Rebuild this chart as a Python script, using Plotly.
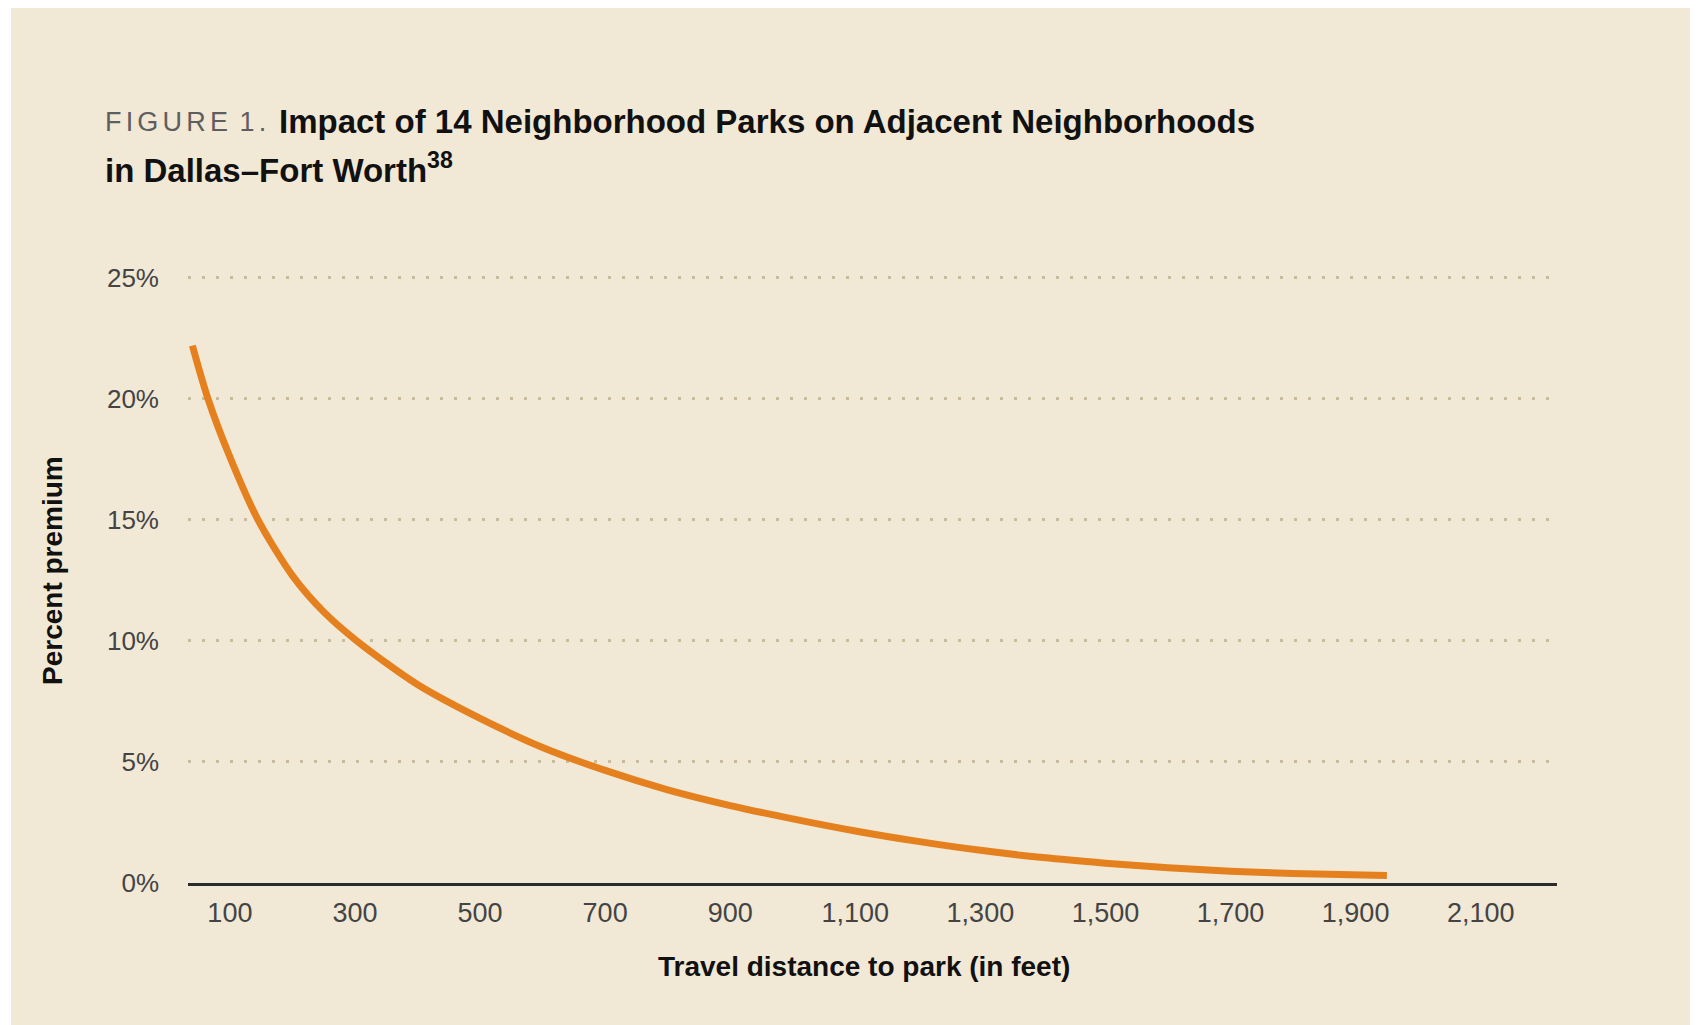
import plotly.graph_objects as go

# -----------------------------
# Data
# -----------------------------

distance_ft = [40, 65, 100, 145, 200, 250, 303, 400, 500, 600, 700, 800, 900,
               1000, 1100, 1200, 1300, 1400, 1500, 1600, 1700, 1800, 1950]

premium_pct = [22.2, 20.0, 17.6, 15.0, 12.7, 11.2, 10.0, 8.2, 6.8, 5.6, 4.65, 3.85, 3.2,
               2.65, 2.15, 1.72, 1.35, 1.05, 0.82, 0.63, 0.49, 0.39, 0.31]

x_ticks = [100, 300, 500, 700, 900, 1100, 1300, 1500, 1700, 1900, 2100]
y_ticks = [0, 5, 10, 15, 20, 25]
y_labels = [f"{v}%" for v in y_ticks]

BG = "#F1E8D6"
ORANGE = "#E5801F"
GRID = "#C9BC9C"

# -----------------------------
# Figure
# (page body keeps its 8px margin, so the figure is 8px smaller)
# -----------------------------

fig = go.Figure()

fig.add_trace(go.Scatter(
    x=distance_ft,
    y=premium_pct,
    mode="lines",
    line=dict(color=ORANGE, width=7, shape="spline", smoothing=0.8),
    hoverinfo="skip",
    showlegend=False
))

fig.update_layout(
    width=1690,
    height=1017,
    paper_bgcolor=BG,
    plot_bgcolor=BG,
    margin=dict(l=180, r=141, t=265, b=142),
    font=dict(family="Liberation Sans, Arial, sans-serif", color="#444444", size=26),
)

fig.update_xaxes(
    range=[33, 2222],
    tickvals=x_ticks,
    tickformat=",d",
    showgrid=False,
    zeroline=False,
    showline=True,
    linecolor="#2b2b2b",
    linewidth=2.5,
    ticks="",
    ticklabelstandoff=4,
    tickfont=dict(size=27, color="#444444"),
)

fig.update_yaxes(
    range=[0, 25.2],
    tickmode="array",
    tickvals=y_ticks,
    ticktext=y_labels,
    showgrid=True,
    gridcolor=GRID,
    gridwidth=3,
    griddash="3px,11px",
    zeroline=False,
    showline=False,
    ticks="",
    ticklabelstandoff=28,
    tickfont=dict(size=26, color="#444444"),
)

# -----------------------------
# Titles
# -----------------------------

W = 1369.0
H = 610.0


def px_x(p):
    return (p - 180) / W


def px_y(q):
    return (875 - q) / H


gap = "<span style='font-size:15px'>\u00a0</span>"
figure_label = gap.join(list("FIGURE")) + gap + "\u00a01" + gap + "."

fig.add_annotation(
    text=figure_label,
    xref="paper", yref="paper",
    x=px_x(95), y=px_y(114),
    xanchor="left", yanchor="middle",
    showarrow=False,
    font=dict(size=27, color="#5e5e5e"),
)

fig.add_annotation(
    text="<b>Impact of 14 Neighborhood Parks on Adjacent Neighborhoods</b>",
    xref="paper", yref="paper",
    x=px_x(269), y=px_y(114),
    xanchor="left", yanchor="middle",
    showarrow=False,
    font=dict(size=33, color="#111111"),
)

fig.add_annotation(
    text="<b>in Dallas–Fort Worth<sup>38</sup></b>",
    xref="paper", yref="paper",
    x=px_x(95), y=px_y(160),
    xanchor="left", yanchor="middle",
    showarrow=False,
    font=dict(size=33, color="#111111"),
)

fig.add_annotation(
    text="<b>Travel distance to park (in feet)</b>",
    xref="paper", yref="paper",
    x=px_x(856), y=px_y(958),
    xanchor="center", yanchor="middle",
    showarrow=False,
    font=dict(size=28, color="#111111"),
)

fig.add_annotation(
    text="<b>Percent premium</b>",
    xref="paper", yref="paper",
    x=px_x(44), y=px_y(563),
    xanchor="center", yanchor="middle",
    textangle=-90,
    showarrow=False,
    font=dict(size=28, color="#111111"),
)

# thin white page edge on the left
fig.add_shape(type="rect", xref="paper", yref="paper",
              x0=px_x(-5), x1=px_x(3), y0=px_y(1030), y1=px_y(-5),
              fillcolor="white", line_width=0, layer="above")

fig.write_html("out.html")
